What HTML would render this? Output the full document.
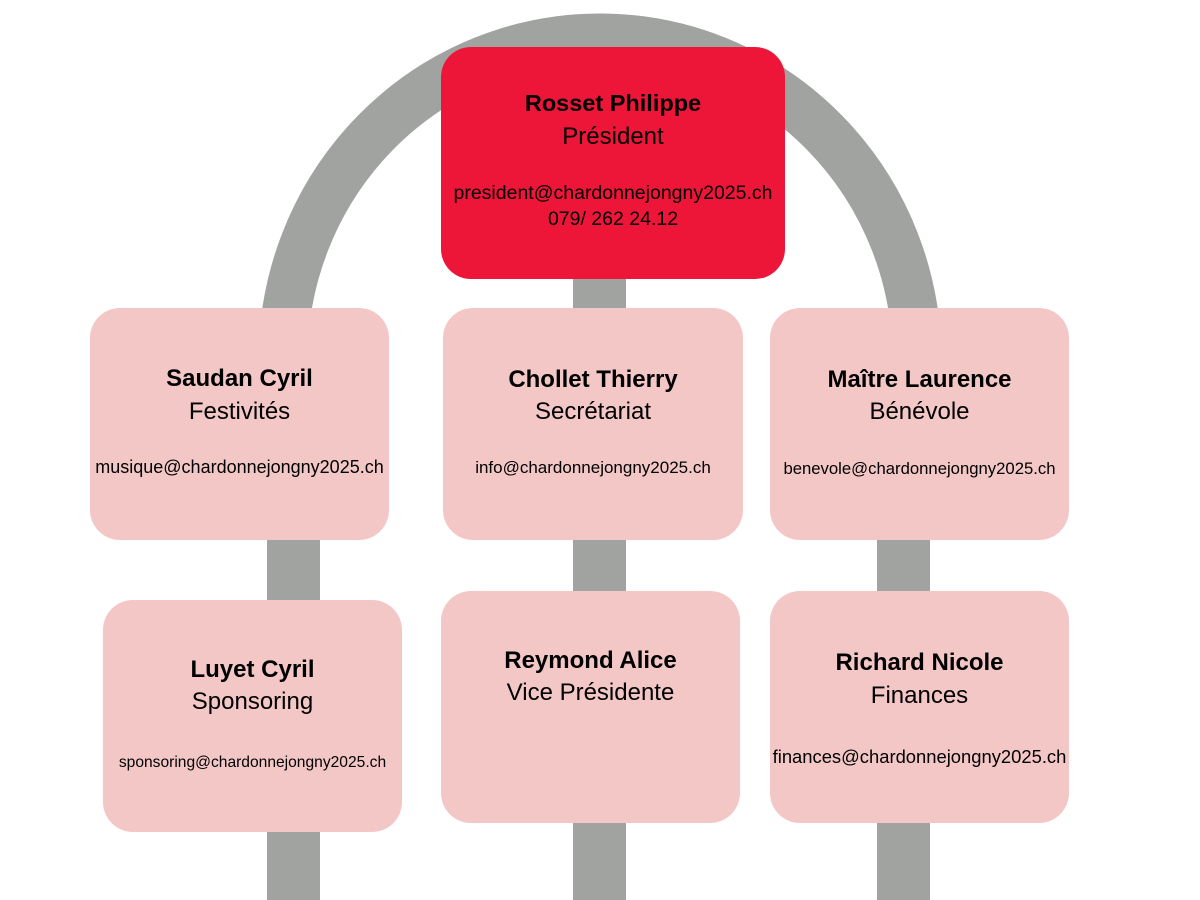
<!DOCTYPE html>
<html><head><meta charset="utf-8"><style>
html,body{margin:0;padding:0;background:#fff;}
body{width:1200px;height:900px;position:relative;overflow:hidden;font-family:"Liberation Sans",Arial,sans-serif;}
.b{position:absolute;border-radius:30px;background:#f4c7c7;text-align:center;color:#000;box-sizing:border-box;}
.n{font-weight:bold;font-size:24px;position:absolute;left:-10px;right:-10px;}
.r{font-size:24px;position:absolute;left:-10px;right:-10px;}
.e{font-size:16px;position:absolute;left:-20px;right:-20px;white-space:nowrap;}
svg{position:absolute;left:0;top:0;}
</style></head><body>
<svg width="1200" height="900">
<path d="M 283 360 A 317 322 0 0 1 917 360" fill="none" stroke="#a0a3a0" stroke-width="49"/>
<rect x="267" y="500" width="53" height="400" fill="#a0a3a0"/>
<rect x="573" y="260" width="53" height="640" fill="#a0a3a0"/>
<rect x="877" y="500" width="53" height="400" fill="#a0a3a0"/>
</svg>
<div class="b" style="left:441px;top:47px;width:344px;height:232px;background:#ed1639;">
<div class="n" style="top:43px;font-size:23.5px">Rosset Philippe</div>
<div class="r" style="top:76px">Président</div>
<div class="e" style="top:135px;font-size:19.5px">president@chardonnejongny2025.ch</div>
<div class="e" style="top:161px;font-size:19.5px">079/ 262 24.12</div>
</div>
<div class="b" style="left:90px;top:308px;width:299px;height:232px;">
<div class="n" style="top:57px">Saudan Cyril</div>
<div class="r" style="top:90px">Festivités</div>
<div class="e" style="top:149px;font-size:18px">musique@chardonnejongny2025.ch</div>
</div>
<div class="b" style="left:443px;top:308px;width:300px;height:232px;">
<div class="n" style="top:58px">Chollet Thierry</div>
<div class="r" style="top:90px">Secrétariat</div>
<div class="e" style="top:150px;font-size:17px">info@chardonnejongny2025.ch</div>
</div>
<div class="b" style="left:770px;top:308px;width:299px;height:232px;">
<div class="n" style="top:58px">Maître Laurence</div>
<div class="r" style="top:90px">Bénévole</div>
<div class="e" style="top:151px;font-size:16.7px">benevole@chardonnejongny2025.ch</div>
</div>
<div class="b" style="left:103px;top:600px;width:299px;height:232px;">
<div class="n" style="top:56px">Luyet Cyril</div>
<div class="r" style="top:88px">Sponsoring</div>
<div class="e" style="top:154px;font-size:15.6px">sponsoring@chardonnejongny2025.ch</div>
</div>
<div class="b" style="left:441px;top:591px;width:299px;height:232px;">
<div class="n" style="top:56px">Reymond Alice</div>
<div class="r" style="top:88px">Vice Présidente</div>
</div>
<div class="b" style="left:770px;top:591px;width:299px;height:232px;">
<div class="n" style="top:58px">Richard Nicole</div>
<div class="r" style="top:91px">Finances</div>
<div class="e" style="top:155px;font-size:18.4px">finances@chardonnejongny2025.ch</div>
</div>
</body></html>
